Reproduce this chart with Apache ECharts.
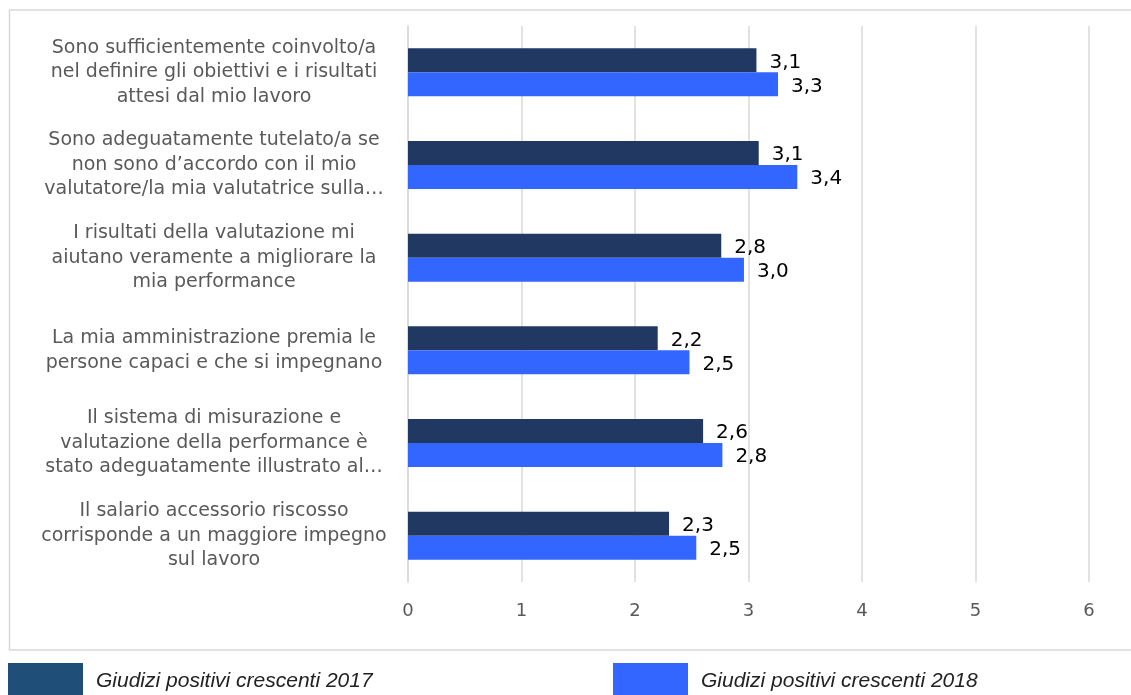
<!DOCTYPE html>
<html>
<head>
<meta charset="utf-8">
<script src="https://cdn.jsdelivr.net/npm/echarts@6/dist/echarts.min.js"></script>
<style>
  html, body { margin: 0; padding: 0; background: #fff; }
  #main { width: 1131px; height: 695px; }
</style>
</head>
<body>
<div id="main"></div>
<script>
// domande (categorie)
var categories = [
  'Sono sufficientemente coinvolto/a\nnel definire gli obiettivi e i risultati\nattesi dal mio lavoro',
  'Sono adeguatamente tutelato/a se\nnon sono d\u2019accordo con il mio\nvalutatore/la mia valutatrice sulla\u2026',
  'I risultati della valutazione mi\naiutano veramente a migliorare la\nmia performance',
  'La mia amministrazione premia le\npersone capaci e che si impegnano',
  'Il sistema di misurazione e\nvalutazione della performance \u00e8\nstato adeguatamente illustrato al\u2026',
  'Il salario accessorio riscosso\ncorrisponde a un maggiore impegno\nsul lavoro'
]
var seriesNames = ['Giudizi positivi crescenti 2017', 'Giudizi positivi crescenti 2018']
var values2017 = [3.07, 3.09, 2.76, 2.20, 2.60, 2.30]
var values2018 = [3.26, 3.43, 2.96, 2.48, 2.77, 2.54]
var xTicks = [0, 1, 2, 3, 4, 5, 6]

var fmt = function (p) {
  return p.value.toFixed(1).replace('.', ',')
}

var labelStyle = {
  show: true,
  position: 'right',
  distance: 13,
  offset: [0, 2],
  color: '#000',
  fontSize: 20,
  fontFamily: 'DejaVu Sans',
  formatter: fmt
}

var legendText = {
  fontStyle: 'italic',
  fontFamily: 'Liberation Sans',
  fontSize: 21,
  color: '#222',
  padding: [0, 0, 0, 8]
}

var mychart = echarts.init(document.getElementById('main'))
mychart.setOption({
  animation: false,
  graphic: [
    {
      type: 'rect',
      shape: { x: 9.5, y: 10, width: 1200, height: 640 },
      style: { fill: 'none', stroke: '#d9d9d9', lineWidth: 1.5 },
      silent: true
    }
  ],
  legend: [
    {
      left: 3,
      top: 658,
      itemWidth: 75,
      itemHeight: 36,
      itemGap: 0,
      textStyle: legendText,
      data: [{ name: seriesNames[0], icon: 'rect', itemStyle: { color: '#1f4e79' } }]
    },
    {
      left: 608,
      top: 658,
      itemWidth: 75,
      itemHeight: 36,
      itemGap: 0,
      textStyle: legendText,
      data: [{ name: seriesNames[1], icon: 'rect' }]
    }
  ],
  grid: {
    left: 408,
    right: 42,
    top: 26,
    bottom: 113,
    containLabel: false
  },
  xAxis: {
    type: 'value',
    min: xTicks[0],
    max: xTicks[xTicks.length - 1],
    interval: 1,
    axisLine: { show: false },
    axisTick: { show: false },
    splitLine: { show: true, lineStyle: { color: '#d9d9d9', width: 1.5 } },
    axisLabel: {
      margin: 20,
      color: '#595959',
      fontSize: 18,
      fontFamily: 'DejaVu Sans'
    }
  },
  yAxis: {
    type: 'category',
    inverse: true,
    data: categories,
    axisLine: { show: true, lineStyle: { color: '#d9d9d9', width: 1.5 } },
    axisTick: { show: false },
    axisLabel: {
      align: 'center',
      margin: 194,
      color: '#595959',
      fontSize: 19,
      lineHeight: 24.5,
      fontFamily: 'DejaVu Sans'
    }
  },
  series: [
    {
      name: seriesNames[0],
      type: 'bar',
      barWidth: 24,
      barGap: '0%',
      itemStyle: { color: '#213862' },
      label: labelStyle,
      data: values2017
    },
    {
      name: seriesNames[1],
      type: 'bar',
      barWidth: 24,
      barGap: '0%',
      itemStyle: { color: '#3366ff' },
      label: labelStyle,
      data: values2018
    }
  ]
})
</script>
</body>
</html>
